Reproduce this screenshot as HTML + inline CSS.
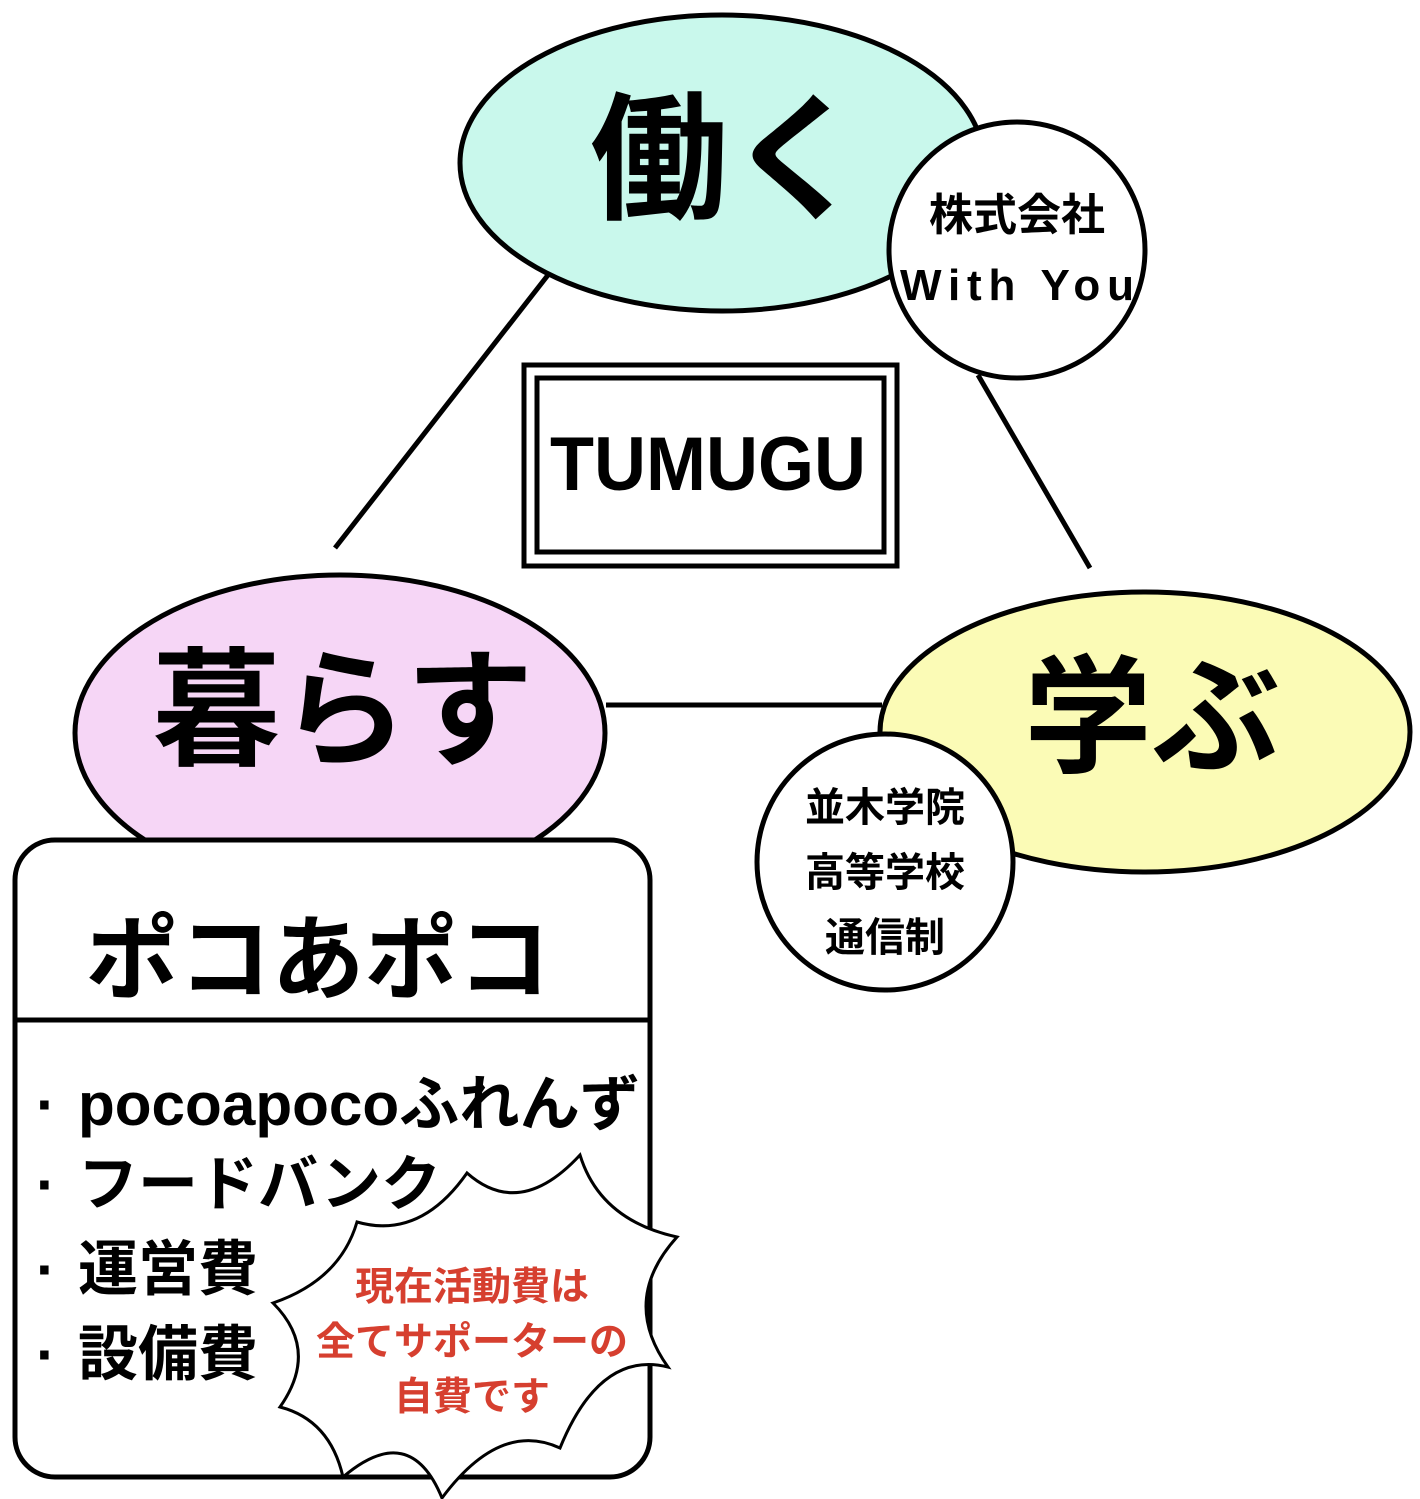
<!DOCTYPE html>
<html><head><meta charset="utf-8"><style>
html,body{margin:0;padding:0;background:#fff;}
svg{display:block;}
text{font-family:"Liberation Sans","Noto Sans CJK JP",sans-serif;font-weight:bold;}
</style></head><body>
<svg width="1420" height="1499" viewBox="0 0 1420 1499" xmlns="http://www.w3.org/2000/svg">
<rect width="1420" height="1499" fill="#fff"/>
<g stroke="#000" stroke-width="5" fill="none">
<line x1="548" y1="275" x2="335" y2="548"/>
<line x1="978" y1="375" x2="1090" y2="568"/>
<line x1="606" y1="705" x2="882" y2="705"/>
</g>
<ellipse cx="722" cy="163" rx="262" ry="148" fill="#c9f8ec" stroke="#000" stroke-width="5"/>
<text x="728" y="208" font-size="138" text-anchor="middle">働く</text>
<circle cx="1017" cy="250" r="128" fill="#fff" stroke="#000" stroke-width="5"/>
<text x="1017" y="230" font-size="44" text-anchor="middle">株式会社</text>
<text x="900" y="300" font-size="44" textLength="234" lengthAdjust="spacing">With You</text>
<rect x="524" y="365" width="373" height="201" fill="#fff" stroke="#000" stroke-width="5"/>
<rect x="537" y="378" width="347" height="174" fill="none" stroke="#000" stroke-width="5"/>
<text x="550" y="490" font-size="76" textLength="316" lengthAdjust="spacingAndGlyphs">TUMUGU</text>
<ellipse cx="340" cy="733" rx="265" ry="158" fill="#f6d6f6" stroke="#000" stroke-width="5"/>
<text x="343" y="755" font-size="128" text-anchor="middle">暮らす</text>
<ellipse cx="1145" cy="732" rx="265" ry="140" fill="#fbfbb6" stroke="#000" stroke-width="5"/>
<text x="1152" y="762" font-size="128" text-anchor="middle">学ぶ</text>
<circle cx="885" cy="862" r="128" fill="#fff" stroke="#000" stroke-width="5"/>
<text x="885" y="821" font-size="40" text-anchor="middle">並木学院</text>
<text x="885" y="886" font-size="40" text-anchor="middle">高等学校</text>
<text x="885" y="951" font-size="40" text-anchor="middle">通信制</text>
<rect x="15" y="840" width="635" height="637" rx="40" fill="#fff" stroke="#000" stroke-width="5"/>
<line x1="15" y1="1020" x2="650" y2="1020" stroke="#000" stroke-width="5"/>
<text x="318" y="992" font-size="93" text-anchor="middle">ポコあポコ</text>
<g font-size="60">
<text x="36" y="1125">·</text><text x="78" y="1125" textLength="562" lengthAdjust="spacingAndGlyphs">pocoapocoふれんず</text>
<text x="36" y="1205">·</text><text x="78" y="1205">フードバンク</text>
<text x="36" y="1290">·</text><text x="78" y="1290">運営費</text>
<text x="36" y="1375">·</text><text x="78" y="1375">設備費</text>
</g>
<path d="M467,1173 Q520,1220 580,1155 Q600,1220 677,1237 Q620,1300 668,1367 Q600,1350 560,1448 Q500,1420 442,1498 Q410,1420 343,1477 Q330,1420 280,1407 Q320,1350 273,1303 Q340,1280 357,1222 Q420,1240 467,1173 Z" fill="#fff" stroke="#000" stroke-width="3"/>
<g font-size="39" fill="#d63f2f" text-anchor="middle">
<text x="472" y="1300">現在活動費は</text>
<text x="472" y="1355">全てサポーターの</text>
<text x="472" y="1410">自費です</text>
</g>
</svg>
</body></html>
